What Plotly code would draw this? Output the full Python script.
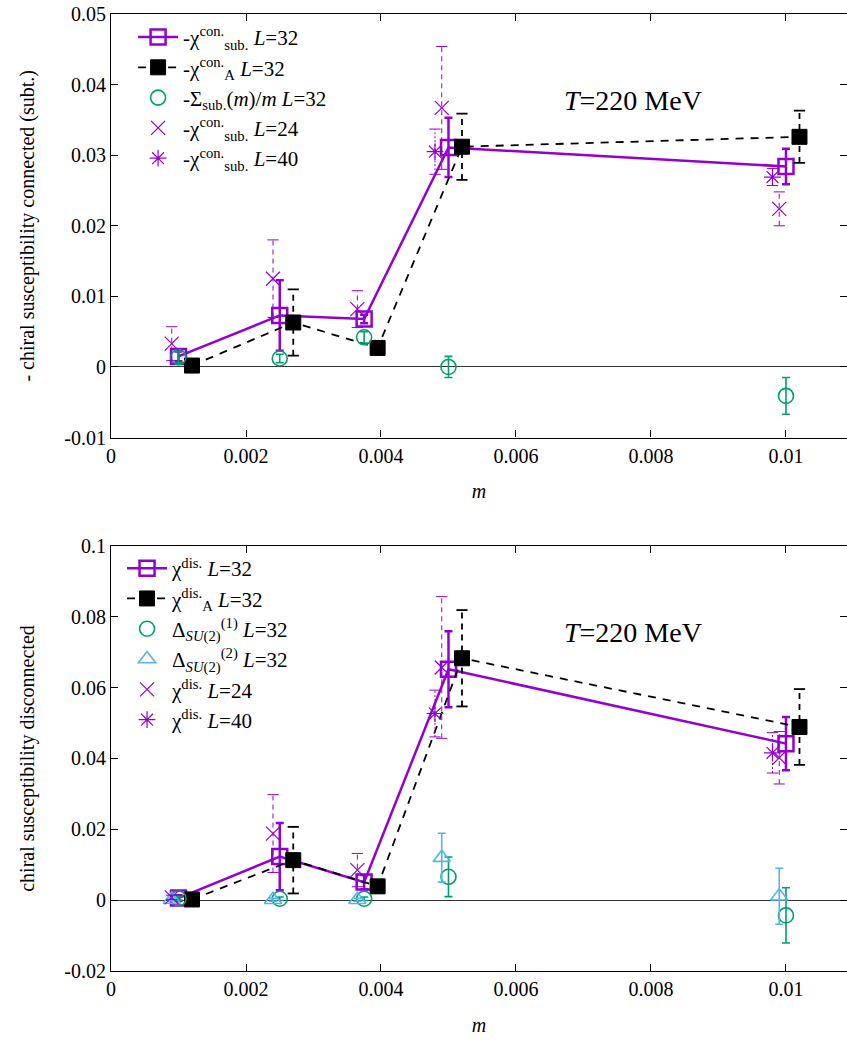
import plotly.graph_objects as go

PURPLE = "#9400D3"
GREEN = "#009E73"
BLUE = "#56B4E9"
BLACK = "#000000"
FONT = "Times New Roman, Liberation Serif, DejaVu Serif, serif"

# ---------------- top panel: connected ----------------
m_con_sub32 = [0.001, 0.0025, 0.00375, 0.005, 0.01]
con_sub32 = [0.0015, 0.0073, 0.0068, 0.0311, 0.0284]
con_sub32_err = [0.0007, 0.0050, 0.0006, 0.0042, 0.0025]

m_con_A32 = [0.0012, 0.0027, 0.00395, 0.0052, 0.0102]
con_A32 = [0.0002, 0.0063, 0.0027, 0.0312, 0.0326]
con_A32_err = [0.0004, 0.0047, 0.0005, 0.0047, 0.0037]

m_sigma32 = [0.001, 0.0025, 0.00375, 0.005, 0.01]
sigma32 = [0.0014, 0.0012, 0.0042, 0.0000, -0.0041]
sigma32_err = [0.0008, 0.0006, 0.0008, 0.0015, 0.0026]

m_con_sub24 = [0.0009, 0.0024, 0.00365, 0.0049, 0.0099]
con_sub24 = [0.0033, 0.0125, 0.0082, 0.0367, 0.0224]
con_sub24_err = [0.0024, 0.0055, 0.0026, 0.0087, 0.0024]

m_con_sub40 = [0.0048, 0.0098]
con_sub40 = [0.0305, 0.0269]
con_sub40_err = [0.0032, 0.0012]

# ---------------- bottom panel: disconnected ----------------
m_dis32 = [0.001, 0.0025, 0.00375, 0.005, 0.01]
dis32 = [0.0006, 0.0123, 0.0051, 0.0652, 0.0442]
dis32_err = [0.0008, 0.0095, 0.0020, 0.0107, 0.0075]

m_disA32 = [0.0012, 0.0027, 0.00395, 0.0052, 0.0102]
disA32 = [0.0002, 0.0113, 0.0039, 0.0683, 0.0489]
disA32_err = [0.0005, 0.0094, 0.0008, 0.0136, 0.0107]

m_delta1 = [0.001, 0.0025, 0.00375, 0.005, 0.01]
delta1 = [0.0005, 0.0004, 0.0004, 0.0066, -0.0043]
delta1_err = [0.0005, 0.0005, 0.0005, 0.0056, 0.0078]

m_delta2 = [0.0009, 0.0024, 0.00365, 0.0049, 0.0099]
delta2 = [0.0002, 0.0001, 0.0001, 0.0120, 0.0011]
delta2_err = [0.0004, 0.0004, 0.0004, 0.0069, 0.0079]

m_dis24 = [0.0009, 0.0024, 0.00365, 0.0049, 0.0099]
dis24 = [0.0008, 0.0188, 0.0085, 0.0657, 0.0402]
dis24_err = [0.0006, 0.0110, 0.0047, 0.0200, 0.0074]

m_dis40 = [0.0048, 0.0098]
dis40 = [0.0527, 0.0416]
dis40_err = [0.0066, 0.0057]

x_ticks = [0, 0.002, 0.004, 0.006, 0.008, 0.01]
x_ticktext = ["0", "0.002", "0.004", "0.006", "0.008", "0.01"]
y1_ticks = [-0.01, 0, 0.01, 0.02, 0.03, 0.04, 0.05]
y1_ticktext = ["-0.01", "0", "0.01", "0.02", "0.03", "0.04", "0.05"]
y2_ticks = [-0.02, 0, 0.02, 0.04, 0.06, 0.08, 0.1]
y2_ticktext = ["-0.02", "0", "0.02", "0.04", "0.06", "0.08", "0.1"]

fig = go.Figure()


def styled_errorbars(x, y, e, color, dash, width, xa, ya):
    xs, ys, cx, cy = [], [], [], []
    for xi, yi, ei in zip(x, y, e):
        xs += [xi, xi, None]
        ys += [yi - ei, yi + ei, None]
        cx += [xi, xi]
        cy += [yi - ei, yi + ei]
    fig.add_trace(go.Scatter(x=xs, y=ys, mode="lines", xaxis=xa, yaxis=ya,
                             line=dict(color=color, width=width, dash=dash),
                             showlegend=False, hoverinfo="skip"))
    fig.add_trace(go.Scatter(x=cx, y=cy, mode="markers", xaxis=xa, yaxis=ya,
                             marker=dict(symbol="line-ew", size=8,
                                         line=dict(color=color, width=width)),
                             showlegend=False, hoverinfo="skip"))


def series(x, y, e, name, legend, xa, ya, color, symbol, msize, mlw,
           mode="markers", line=None, err_style="solid", err_w=1.5):
    if err_style != "solid":
        styled_errorbars(x, y, e, color, err_style, err_w, xa, ya)
        ey = None
    else:
        ey = dict(type="data", array=e, visible=True, color=color,
                  thickness=err_w, width=4)
    mk = dict(symbol=symbol, size=msize, color=color,
              line=dict(color=color, width=mlw))
    fig.add_trace(go.Scatter(x=x, y=y, mode=mode, name=name, legend=legend,
                             xaxis=xa, yaxis=ya, error_y=ey, marker=mk,
                             line=line, cliponaxis=True))


# top panel traces
series(m_con_sub32, con_sub32, con_sub32_err,
       "-χ<sup>con.</sup><sub>sub.</sub> <i>L</i>=32", "legend", "x", "y",
       PURPLE, "square-open", 15, 2.5, mode="lines+markers",
       line=dict(color=PURPLE, width=2.5), err_w=2.5)
series(m_con_A32, con_A32, con_A32_err,
       "-χ<sup>con.</sup><sub>A</sub> <i>L</i>=32", "legend", "x", "y",
       BLACK, "square", 15, 1, mode="lines+markers",
       line=dict(color=BLACK, width=1.8, dash="8px,7px"), err_style="6px,5px", err_w=1.8)
series(m_sigma32, sigma32, sigma32_err,
       "-Σ<sub>sub.</sub>(<i>m</i>)/<i>m</i> <i>L</i>=32", "legend", "x", "y",
       GREEN, "circle-open", 15, 1.6, err_w=1.6)
series(m_con_sub24, con_sub24, con_sub24_err,
       "-χ<sup>con.</sup><sub>sub.</sub> <i>L</i>=24", "legend", "x", "y",
       PURPLE, "x-thin-open", 14, 1.2, err_style="5px,4px", err_w=1.0)
series(m_con_sub40, con_sub40, con_sub40_err,
       "-χ<sup>con.</sup><sub>sub.</sub> <i>L</i>=40", "legend", "x", "y",
       PURPLE, "asterisk-open", 14, 1.2, err_style="2px,2px", err_w=1.0)

# bottom panel traces
series(m_dis32, dis32, dis32_err,
       "χ<sup>dis.</sup> <i>L</i>=32", "legend2", "x2", "y2",
       PURPLE, "square-open", 15, 2.5, mode="lines+markers",
       line=dict(color=PURPLE, width=2.5), err_w=2.5)
series(m_disA32, disA32, disA32_err,
       "χ<sup>dis.</sup><sub>A</sub> <i>L</i>=32", "legend2", "x2", "y2",
       BLACK, "square", 15, 1, mode="lines+markers",
       line=dict(color=BLACK, width=1.8, dash="8px,7px"), err_style="6px,5px", err_w=1.8)
series(m_delta1, delta1, delta1_err,
       "Δ<sub><i>SU</i>(2)</sub><sup>(1)</sup> <i>L</i>=32", "legend2", "x2", "y2",
       GREEN, "circle-open", 15, 1.6, err_w=1.6)
series(m_delta2, delta2, delta2_err,
       "Δ<sub><i>SU</i>(2)</sub><sup>(2)</sup> <i>L</i>=32", "legend2", "x2", "y2",
       BLUE, "triangle-up-open", 15, 1.6, err_w=1.6)
series(m_dis24, dis24, dis24_err,
       "χ<sup>dis.</sup> <i>L</i>=24", "legend2", "x2", "y2",
       PURPLE, "x-thin-open", 14, 1.2, err_style="5px,4px", err_w=1.0)
series(m_dis40, dis40, dis40_err,
       "χ<sup>dis.</sup> <i>L</i>=40", "legend2", "x2", "y2",
       PURPLE, "asterisk-open", 14, 1.2, err_style="2px,2px", err_w=1.0)

tickfont = dict(family=FONT, size=20, color="black")
common_x = dict(range=[0, 0.010904], tickvals=x_ticks, ticktext=x_ticktext,
                ticks="inside", ticklen=7, tickcolor="black", mirror="ticks",
                showline=True, linecolor="black", linewidth=1.2,
                showgrid=False, zeroline=False, tickfont=tickfont,
                title=dict(text="<i>m</i>", font=dict(family=FONT, size=20), standoff=18))
common_y = dict(ticks="inside", ticklen=7, tickcolor="black", mirror="ticks",
                showline=True, linecolor="black", linewidth=1.2,
                showgrid=False, zeroline=True, zerolinecolor="#333333",
                zerolinewidth=1, tickfont=tickfont)

fig.update_layout(
    width=847, height=1046,
    margin=dict(l=111, r=0, t=14, b=75),
    paper_bgcolor="white", plot_bgcolor="white",
    font=dict(family=FONT, size=20, color="black"),
    xaxis=dict(domain=[0, 1], anchor="y", **common_x),
    yaxis=dict(domain=[0.5574, 1], anchor="x", range=[-0.01, 0.05],
               tickvals=y1_ticks, ticktext=y1_ticktext,
               title=dict(text="- chiral susceptibility connected (subt.)",
                          font=dict(family=FONT, size=20), standoff=24),
               **common_y),
    xaxis2=dict(domain=[0, 1], anchor="y2", **common_x),
    yaxis2=dict(domain=[0, 0.4441], anchor="x2", range=[-0.02, 0.1],
                tickvals=y2_ticks, ticktext=y2_ticktext,
                title=dict(text="chiral susceptibility disconnected",
                           font=dict(family=FONT, size=20), standoff=24),
                **common_y),
    legend=dict(x=0.03, y=0.997, xanchor="left", yanchor="top",
                bgcolor="rgba(0,0,0,0)", font=dict(family=FONT, size=21),
                tracegroupgap=0, itemwidth=40),
    legend2=dict(x=0.015, y=0.442, xanchor="left", yanchor="top",
                 bgcolor="rgba(0,0,0,0)", font=dict(family=FONT, size=21),
                 tracegroupgap=0, itemwidth=40),
    showlegend=True,
)

fig.add_annotation(x=0.00773, y=0.0378, xref="x", yref="y", showarrow=False,
                   text="<i>T</i>=220 MeV", font=dict(family=FONT, size=28))
fig.add_annotation(x=0.00773, y=0.0756, xref="x2", yref="y2", showarrow=False,
                   text="<i>T</i>=220 MeV", font=dict(family=FONT, size=28))

fig.write_html("out.html")
